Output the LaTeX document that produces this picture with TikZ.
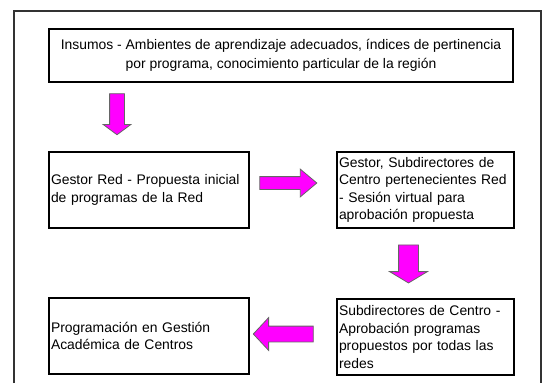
\documentclass[tikz,border=0pt]{standalone}
\usepackage{fontspec}
\setmainfont{Liberation Sans}
\usetikzlibrary{shapes.arrows}
\definecolor{fucsia}{RGB}{255,0,255}
\tikzset{marco/.style={draw,black!80,line width=1.6pt}}
\tikzset{paso/.style={draw,line width=2pt,inner xsep=2pt,inner ysep=1pt,minimum height=76pt,font=\fontsize{13.9}{17.6}\selectfont}}
\tikzset{flecha/.style={draw=black!60,line width=0.8pt,fill=fucsia,single arrow,inner sep=0pt}}

\begin{document}
\begin{tikzpicture}[x=1pt,y=-1pt]
    \useasboundingbox (0,0) rectangle (546,383);
    \draw[marco] (14,383) -- (14,11) -- (541,11) -- (541,383);

    \node[paso,align=center,minimum width=464pt,minimum height=53pt,font=\fontsize{13.9}{19}\selectfont] (insumos) at (281,55.5)
      {Insumos - Ambientes de aprendizaje adecuados, índices de pertinencia\\por programa, conocimiento particular de la región};
    \node[paso,align=left,text width=196pt] (gestor) at (149,190)
      {Gestor Red - Propuesta inicial\\de programas de la Red};
    \node[paso,align=left,text width=173pt] (sesion) at (425.5,190)
      {Gestor, Subdirectores de\\Centro pertenecientes Red\\- Sesión virtual para\\aprobación propuesta};
    \node[paso,align=left,text width=173pt] (subdir) at (425.5,337)
      {Subdirectores de Centro -\\Aprobación programas\\propuestos por todas las\\redes};
    \node[paso,align=left,text width=196pt] (program) at (149,336)
      {Programación en Gestión\\Académica de Centros};

    \node[flecha,rotate=-90,minimum height=41pt,inner sep=7pt,single arrow head extend=6.5pt,single arrow tip angle=107] (f1) at (117,111.5) {};
    \node[flecha,minimum height=57pt,inner sep=6pt,single arrow head extend=7.5pt,single arrow tip angle=80] (f2) at (284.5,183) {};
    \node[flecha,rotate=-90,minimum height=38pt,inner sep=9.5pt,single arrow head extend=9pt,single arrow tip angle=118] (f3) at (408.5,261) {};
    \node[flecha,rotate=180,minimum height=60pt,inner sep=7.5pt,single arrow head extend=8.5pt,single arrow tip angle=94] (f4) at (287,334) {};
\end{tikzpicture}
\end{document}
